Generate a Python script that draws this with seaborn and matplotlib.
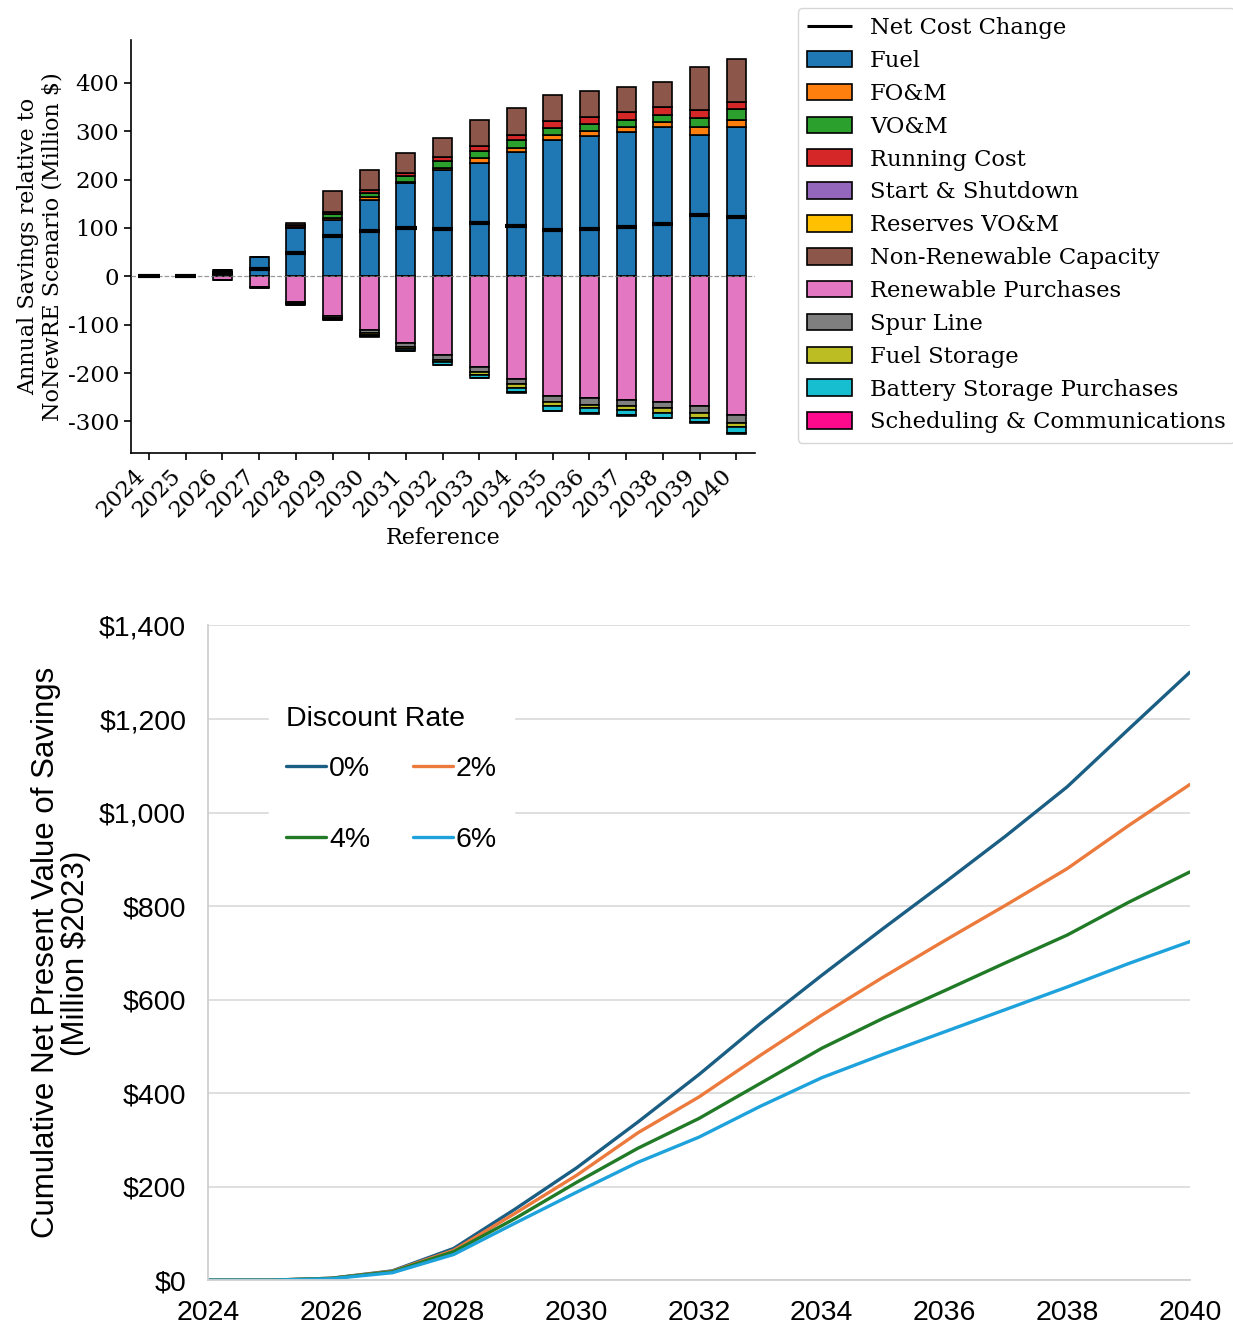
import numpy as np
import pandas as pd
import matplotlib
matplotlib.use("Agg")
import matplotlib.pyplot as plt
from matplotlib.ticker import FuncFormatter
import seaborn as sns

# ---------------- data: annual savings (top) ----------------
years = [2024, 2025, 2026, 2027, 2028, 2029, 2030, 2031, 2032,
         2033, 2034, 2035, 2036, 2037, 2038, 2039, 2040]

fuel = [0, 0, 14, 40, 100, 117, 158, 192, 219, 235, 256, 282, 290, 299, 308, 292, 309]
fom = [0, 0, 0, 0, 1, 4, 5, 4, 5, 10, 10, 10, 10, 10, 10, 16, 15]
vom = [0, 0, 0, 0, 2, 8, 10, 12, 14, 14, 15, 15, 15, 15, 15, 20, 21]
running_cost = [0, 0, 0, 0, 3, 4, 6, 6, 9, 11, 12, 14, 14, 15, 16, 15, 15]
start_shutdown = [0] * 17
reserves_vom = [0] * 17
nonrenewable_capacity = [0, 0, 0, 0, 4, 43, 40, 41, 38, 54, 54, 53, 54, 53, 53, 89, 90]

renewable_purchases = [0, 0, -8, -23, -52, -81, -110, -137, -163, -187, -212, -247, -252, -255, -260, -268, -287]
spur_line = [0, 0, 0, 0, -4, -6, -8, -9, -10, -10, -11, -13, -13, -14, -13, -15, -16]
fuel_storage = [0, 0, 0, 0, -1, -2, -3, -4, -5, -6, -7, -8, -8, -8, -9, -9, -9]
battery_storage = [0, 0, 0, -1, -2, -2, -3, -4, -5, -7, -10, -10, -10, -10, -10, -10, -12]
scheduling = [0, 0, 0, 0, 0, 0, -1, -1, -1, -1, -1, -1, -1, -2, -1, -2, -2]

net_cost_change = [0, 0, 6, 16, 49, 83, 94, 99, 98, 110, 105, 95, 98, 103, 109, 127, 123]

positive_parts = [
    ("Fuel", fuel, "#1f77b4"),
    ("FO&M", fom, "#ff7f0e"),
    ("VO&M", vom, "#2ca02c"),
    ("Running Cost", running_cost, "#d62728"),
    ("Start & Shutdown", start_shutdown, "#9467bd"),
    ("Reserves VO&M", reserves_vom, "#ffc000"),
    ("Non-Renewable Capacity", nonrenewable_capacity, "#8c564b"),
]
negative_parts = [
    ("Renewable Purchases", renewable_purchases, "#e377c2"),
    ("Spur Line", spur_line, "#7f7f7f"),
    ("Fuel Storage", fuel_storage, "#bcbd22"),
    ("Battery Storage Purchases", battery_storage, "#17becf"),
    ("Scheduling & Communications", scheduling, "#ff0a8c"),
]

# ---------------- data: cumulative NPV (bottom) ----------------
npv_years = years
rate_labels = ["0%", "2%", "4%", "6%"]
npv_0 = [0, 0, 4, 20, 68, 152, 240, 338, 440, 549, 652, 752, 850, 950, 1055, 1178, 1300]
npv_2 = [0, 0, 4, 19, 64, 143, 224, 315, 392, 481, 567, 648, 726, 802, 880, 972, 1060]
npv_4 = [0, 0, 4, 18, 61, 132, 209, 282, 346, 421, 496, 560, 619, 679, 738, 808, 873]
npv_6 = [0, 0, 3, 16, 55, 122, 188, 252, 306, 372, 433, 483, 531, 579, 627, 677, 724]
rate_colors = ["#1b5e84", "#ec7a3c", "#207a26", "#1ea2dc"]

# ---------------- style ----------------
sns.set_theme(style="ticks")
plt.rcParams["font.family"] = ["DejaVu Serif"]
plt.rcParams["axes.unicode_minus"] = False
for key in ["text.color", "axes.labelcolor", "xtick.color", "ytick.color"]:
    plt.rcParams[key] = "black"

fig = plt.figure(figsize=(12.33, 13.28), dpi=100)
ax1 = fig.add_axes([0.106, 0.659, 0.506, 0.311])
ax2 = fig.add_axes([0.169, 0.036, 0.796, 0.493])

# ---------------- top chart ----------------
x = np.arange(len(years))
width = 0.52
handles = {}
pos_bottom = np.zeros(len(years))
for name, vals, color in positive_parts:
    v = np.asarray(vals, dtype=float)
    b = ax1.bar(x, v, width, bottom=pos_bottom, color=color,
                edgecolor="black", linewidth=1.2, label=name, zorder=2)
    handles[name] = b
    pos_bottom = pos_bottom + v
neg_bottom = np.zeros(len(years))
for name, vals, color in negative_parts:
    v = np.asarray(vals, dtype=float)
    b = ax1.bar(x, v, width, bottom=neg_bottom, color=color,
                edgecolor="black", linewidth=1.2, label=name, zorder=2)
    handles[name] = b
    neg_bottom = neg_bottom + v

net_h = ax1.hlines(net_cost_change, x - 0.29, x + 0.29, colors="black",
                   linewidth=3, zorder=4, label="Net Cost Change")
ax1.axhline(0, color="gray", linestyle="--", linewidth=0.9, zorder=3, alpha=0.8)

ax1.set_xlim(-0.5, len(years) - 0.5)
ax1.set_xticks(x)
ax1.set_xticklabels([str(y) for y in years], rotation=45, ha="right")
ax1.tick_params(axis="both", labelsize=16.5, length=5, width=1.2)
ax1.set_xlabel("Reference", fontsize=16)
ax1.set_ylabel("Annual Savings relative to\nNoNewRE Scenario (Million $)",
               fontsize=16, labelpad=3, linespacing=1.12)
sns.despine(ax=ax1)
for s in ["left", "bottom"]:
    ax1.spines[s].set_linewidth(1.2)
    ax1.spines[s].set_color("black")

order = ["Fuel", "FO&M", "VO&M", "Running Cost", "Start & Shutdown",
         "Reserves VO&M", "Non-Renewable Capacity", "Renewable Purchases",
         "Spur Line", "Fuel Storage", "Battery Storage Purchases",
         "Scheduling & Communications"]
leg_handles = [net_h] + [handles[n] for n in order]
leg_labels = ["Net Cost Change"] + order
leg1 = ax1.legend(leg_handles, leg_labels, loc="upper left",
                  bbox_to_anchor=(1.069, 1.077), borderaxespad=0,
                  fontsize=16.3, frameon=True, labelspacing=0.48,
                  handlelength=2.0, handleheight=0.75)
for ln in leg1.get_lines():
    ln.set_linewidth(2.2)

# ---------------- bottom chart ----------------
df = pd.DataFrame({
    "Year": npv_years * 4,
    "Savings": npv_0 + npv_2 + npv_4 + npv_6,
    "Discount Rate": sum([[r] * len(npv_years) for r in rate_labels], []),
})
sns.lineplot(data=df, x="Year", y="Savings", hue="Discount Rate",
             palette=dict(zip(rate_labels, rate_colors)), linewidth=2.4,
             ax=ax2, legend=True)

sans = "Liberation Sans"
ax2.set_xlim(2024, 2040)
ax2.set_ylim(0, 1400)
ax2.set_xticks(range(2024, 2041, 2))
ax2.set_yticks(range(0, 1401, 200))
ax2.yaxis.set_major_formatter(FuncFormatter(lambda v, p: f"${v:,.0f}"))
ax2.grid(False)
ax2.yaxis.grid(True, color="#dcdcdc", linewidth=1.3)
ax2.set_axisbelow(True)
for s in ["top", "right"]:
    ax2.spines[s].set_visible(False)
for s in ["left", "bottom"]:
    ax2.spines[s].set_color("#cfcfcf")
    ax2.spines[s].set_linewidth(1.3)
ax2.tick_params(axis="both", length=0, labelsize=20.5)
ax2.tick_params(axis="y", pad=16)
ax2.tick_params(axis="x", pad=14)
for lab in ax2.get_xticklabels() + ax2.get_yticklabels():
    lab.set_fontfamily(sans)
ax2.set_xlabel("")
ax2.set_ylabel("Cumulative Net Present Value of Savings\n(Million $2023)",
               fontsize=22.5, fontfamily=sans, labelpad=6, linespacing=1.0)

h2, l2 = ax2.get_legend_handles_labels()
hmap = dict(zip(l2, h2))
leg_order = ["0%", "4%", "2%", "6%"]  # column-wise fill -> rows 0%,2% / 4%,6%
leg2 = ax2.legend([hmap[k] for k in leg_order], leg_order,
                  title="Discount Rate", ncol=2, loc="upper left",
                  bbox_to_anchor=(0.062, 0.903), borderaxespad=0,
                  prop={"family": sans, "size": 20.5},
                  frameon=True, framealpha=1, edgecolor="white",
                  handlelength=1.4, handletextpad=0.1, columnspacing=1.5,
                  labelspacing=1.58, borderpad=0.6, fancybox=False)
leg2.get_title().set_fontfamily(sans)
leg2.get_title().set_fontsize(20.5)
leg2._legend_box.align = "left"
leg2._legend_box.sep = 17.3
for ln in leg2.get_lines():
    ln.set_linewidth(2.4)

fig.savefig("out.png", dpi=100)
